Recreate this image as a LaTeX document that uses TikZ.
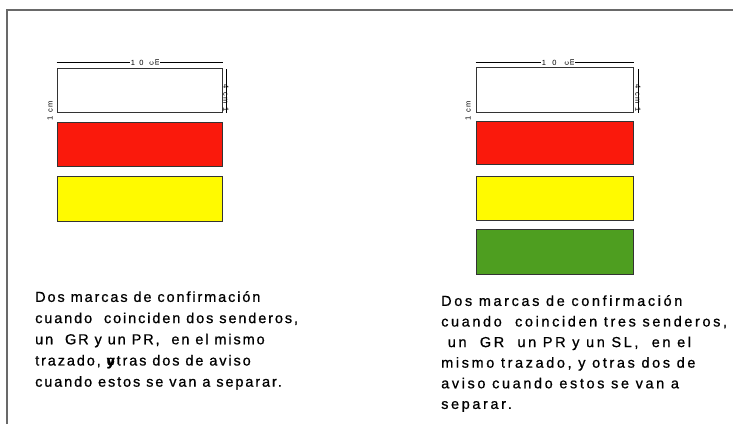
\documentclass[tikz,border=0pt]{standalone}
\usepackage{fontspec}
\setmainfont{Liberation Sans}
\newfontfamily\marcafont[LetterSpace=13, FakeBold=0.8]{Liberation Sans}
\newfontfamily\marcafontancha[LetterSpace=18, FakeBold=0.8]{Liberation Sans}
\usetikzlibrary{positioning}
\definecolor{marcared}{RGB}{250, 25, 12}
\definecolor{marcayellow}{RGB}{255, 250, 0}
\definecolor{marcagreen}{RGB}{78, 158, 32}
\definecolor{framegray}{RGB}{105, 105, 105}

\tikzset{
  marca/.style={draw=black!80, line width=1pt, inner sep=0pt, minimum height=44pt},
  cota/.style={font=\fontsize{7.5}{7.5}\selectfont, inner sep=0.8pt},
  texto/.style={align=left, inner sep=0pt, anchor=north west}
}

\begin{document}
\begin{tikzpicture}[x=1pt, y=-1pt]
\useasboundingbox (0,0) rectangle (733,424);

% marco
\draw[framegray, line width=1.8pt] (7,424) -- (7,10) -- (733,10);

% grupo izquierdo
\node[marca, fill=white, minimum width=165pt] (izqBlanco) at (139.5, 90) {};
\node[marca, fill=marcared, minimum width=165pt, below=9pt of izqBlanco] (izqRojo) {};
\node[marca, fill=marcayellow, minimum width=165pt, minimum height=45pt, below=9pt of izqRojo] (izqAmarillo) {};

% cotas izquierda
\node[cota] (izqCota) at (145, 62) {1 \ 0 \ \ \rotatebox{90}{c}\,\rotatebox{90}{m}};
\draw[line width=0.6pt] (izqBlanco.north west |- izqCota) -- (izqCota.west);
\draw[line width=0.6pt] (izqCota.east) -- (izqBlanco.north east |- izqCota);
\node[cota, rotate=90] (izqAlto) at (50, 111) {1\ \ c\,m};
\node[cota, rotate=-90] (izqLado) at (226, 98) {4\ \ c\,m\ \ 1};
\coordinate (izqLadoTop) at (226, 69);
\draw[line width=0.6pt] (izqLadoTop) -- (izqLado.east);

% grupo derecho
\node[marca, fill=white, minimum width=157pt, minimum height=45pt] (derBlanco) at (554.5, 89.5) {};
\node[marca, fill=marcared, minimum width=157pt, minimum height=43pt, below=8pt of derBlanco] (derRojo) {};
\node[marca, fill=marcayellow, minimum width=157pt, below=11pt of derRojo] (derAmarillo) {};
\node[marca, fill=marcagreen, minimum width=157pt, minimum height=45pt, below=8pt of derAmarillo] (derVerde) {};

% cotas derecha
\node[cota] (derCota) at (558, 62) {1 \ \ 0 \ \ \ \rotatebox{90}{c}\,\rotatebox{90}{m}};
\draw[line width=0.6pt] (derBlanco.north west |- derCota) -- (derCota.west);
\draw[line width=0.6pt] (derCota.east) -- (derBlanco.north east |- derCota);
\node[cota, rotate=90] (derAlto) at (468, 111) {1\ \ c\,m};
\node[cota, rotate=-90] (derLado) at (638, 98) {4\ \ c\,m\ \ 1};
\coordinate (derLadoTop) at (638, 69);
\draw[line width=0.6pt] (derLadoTop) -- (derLado.east);

% textos
\node[texto, font=\marcafont\fontsize{14.5}{21.2}\selectfont] (izqTexto) at (35, 291) {Dos marcas de confirmación\\
cuando \ coinciden dos senderos,\\
un \ GR y un PR, \ en el mismo\\
trazado, \makebox[0pt][l]{\bfseries y}otras dos de aviso\\
cuando estos se van a separar.};

\node[texto, font=\marcafontancha\fontsize{14.5}{20.6}\selectfont] (derTexto) at (441, 295) {Dos marcas de confirmación\\
cuando \ coinciden tres senderos,\\
\ un \ GR \ un PR y un SL, \ en el\\
mismo trazado, y otras dos de\\
aviso cuando estos se van a\\
separar.};

\end{tikzpicture}
\end{document}
